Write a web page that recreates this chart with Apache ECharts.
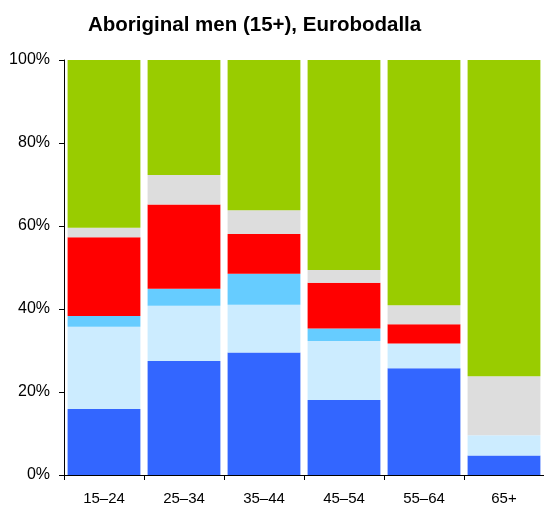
<!DOCTYPE html>
<html>
<head>
<meta charset="utf-8">
<script src="https://cdn.jsdelivr.net/npm/echarts@6/dist/echarts.min.js"></script>
<style>
  html, body { margin: 0; padding: 0; background: #fff; }
  #chart { width: 544px; height: 506px; }
</style>
</head>
<body>
<div id="chart"></div>
<script>
// age groups
const ageGroups = ['15–24', '25–34', '35–44', '45–54', '55–64', '65+'];
const yTicks = [0, 20, 40, 60, 80, 100];

// shares (%), bottom to top
const seg1 = [15.9, 27.5, 29.5, 18.1, 25.7, 4.7];   // dark blue
const seg2 = [19.8, 13.3, 11.5, 14.2, 6.0, 4.9];    // light blue
const seg3 = [2.6, 4.1, 7.5, 3.0, 0, 0];            // mid blue
const seg4 = [19.0, 20.3, 9.6, 11.0, 4.6, 0];       // red
const seg5 = [2.3, 7.1, 5.7, 3.1, 4.6, 14.2];       // grey
const seg6 = [40.4, 27.7, 36.2, 50.6, 59.1, 76.2];  // green

const colors = ['#3366FF', '#CCECFF', '#66CCFF', '#FF0000', '#DDDDDD', '#99CC00'];
const segs = [seg1, seg2, seg3, seg4, seg5, seg6];

const font = '"Liberation Sans", Arial, Helvetica, sans-serif';

const chart = echarts.init(document.getElementById('chart'));

const series = segs.map((vals, i) => ({
    name: 'seg' + (i + 1),
    type: 'bar',
    stack: 'all',
    barCategoryGap: '9%',
    data: vals,
    itemStyle: { color: colors[i] }
}));

chart.setOption({
    animation: false,
    title: {
        text: 'Aboriginal men (15+), Eurobodalla',
        left: 83,
        top: 10,
        textStyle: { fontFamily: font, fontSize: 20.5, fontWeight: 'bold', color: '#000' }
    },
    grid: { left: 64, top: 60, width: 481, height: 415 },
    xAxis: {
        type: 'category',
        data: ageGroups,
        axisLine: { lineStyle: { color: '#000', width: 1 } },
        axisTick: { show: true, length: 5, lineStyle: { color: '#000' } },
        axisLabel: { fontFamily: font, fontSize: 15, color: '#000', margin: 16 }
    },
    yAxis: {
        type: 'value',
        min: yTicks[0],
        max: yTicks[yTicks.length - 1],
        interval: 20,
        axisLine: { show: true, lineStyle: { color: '#000', width: 1 } },
        axisTick: { show: true, length: 5, lineStyle: { color: '#000' } },
        splitLine: { show: false },
        axisLabel: { fontFamily: font, fontSize: 16, color: '#000', margin: 14, formatter: '{value}%' }
    },
    series: series
});
</script>
</body>
</html>
